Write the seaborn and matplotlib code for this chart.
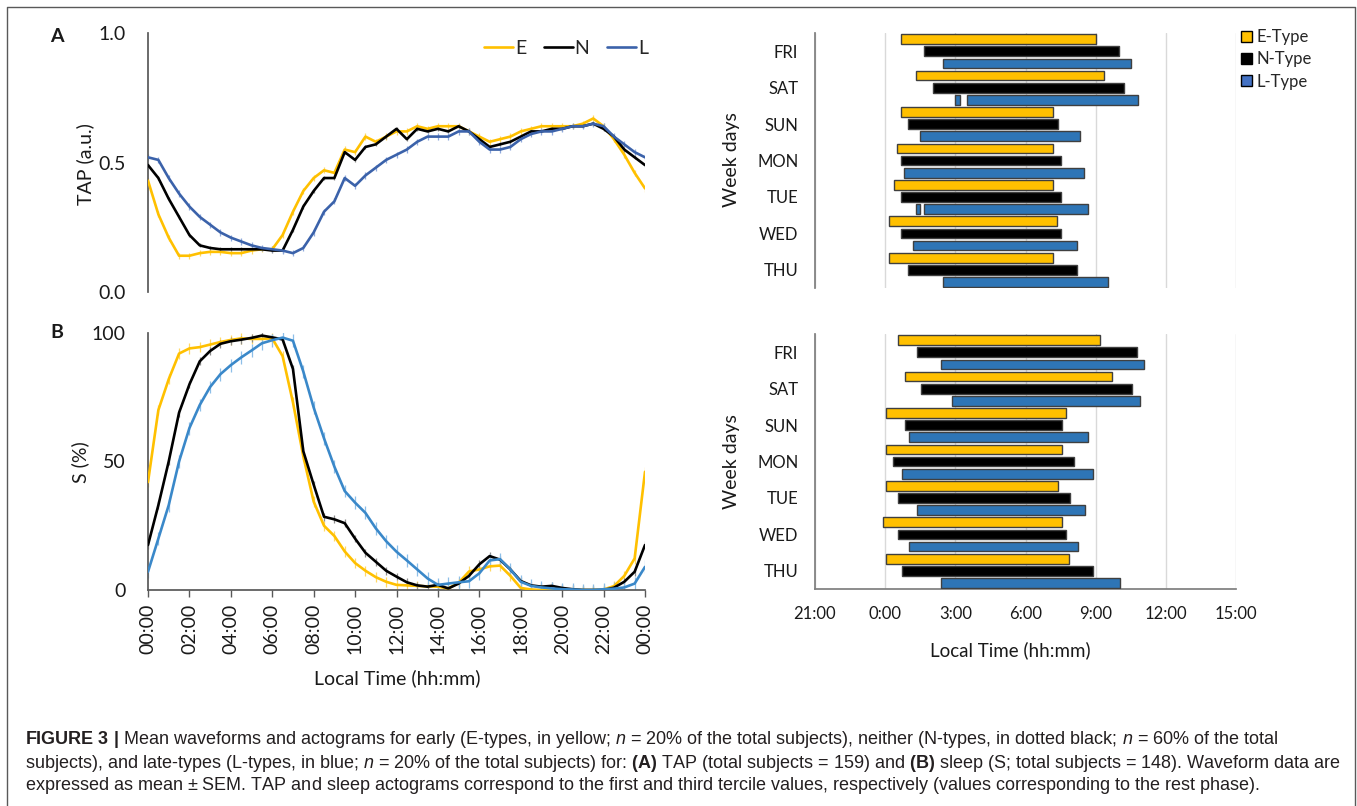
import numpy as np
import pandas as pd
import matplotlib
matplotlib.use("Agg")
import matplotlib.pyplot as plt
import seaborn as sns
from matplotlib.lines import Line2D
from matplotlib.patches import Patch

# ---------------------------
# Data
# ---------------------------

# half-hour grid, 00:00 -> 00:00
TIME_H = np.arange(0, 24.5, 0.5)
TIME_TICKS = list(range(0, 25, 2))
TIME_LABELS = ["00:00", "02:00", "04:00", "06:00", "08:00", "10:00", "12:00",
               "14:00", "16:00", "18:00", "20:00", "22:00", "00:00"]

# Panel A - TAP (a.u.)
TAP_E = [0.43, 0.30, 0.21, 0.14, 0.14, 0.15, 0.155, 0.155, 0.15, 0.15, 0.16, 0.165,
         0.165, 0.22, 0.31, 0.39, 0.44, 0.47, 0.46, 0.55, 0.54, 0.60, 0.58, 0.60,
         0.62, 0.62, 0.64, 0.63, 0.64, 0.64, 0.64, 0.62, 0.60, 0.58, 0.59, 0.60,
         0.62, 0.63, 0.64, 0.64, 0.64, 0.64, 0.65, 0.67, 0.64, 0.59, 0.53, 0.46, 0.40]
TAP_N = [0.49, 0.44, 0.36, 0.29, 0.22, 0.18, 0.17, 0.165, 0.165, 0.165, 0.165, 0.165,
         0.16, 0.16, 0.24, 0.33, 0.39, 0.44, 0.44, 0.54, 0.51, 0.56, 0.57, 0.60,
         0.63, 0.59, 0.63, 0.62, 0.63, 0.62, 0.64, 0.62, 0.59, 0.56, 0.57, 0.58,
         0.60, 0.62, 0.62, 0.63, 0.63, 0.64, 0.64, 0.65, 0.63, 0.60, 0.55, 0.52, 0.49]
TAP_L = [0.52, 0.51, 0.44, 0.38, 0.33, 0.29, 0.26, 0.23, 0.21, 0.195, 0.18, 0.17,
         0.165, 0.16, 0.15, 0.17, 0.23, 0.31, 0.35, 0.44, 0.41, 0.45, 0.48, 0.51,
         0.53, 0.55, 0.58, 0.60, 0.60, 0.60, 0.62, 0.62, 0.58, 0.55, 0.55, 0.56,
         0.59, 0.61, 0.62, 0.62, 0.63, 0.64, 0.64, 0.65, 0.64, 0.60, 0.57, 0.54, 0.52]
TAP_SEM = {"E": 0.012, "N": 0.008, "L": 0.012}

# Panel B - sleep S (%)
S_E = [42, 70, 82, 92, 94, 94.5, 95.5, 96.5, 97.3, 97.9, 97.7, 97.7, 97.9, 91, 73,
       52, 34.4, 25, 21, 15, 10.5, 7.5, 5, 3.2, 2, 1.8, 1.6, 1.4, 1.3, 0.6, 2.8,
       7.2, 8, 9.2, 9.5, 5.5, 0.8, 0.2, 0, 0, 0, 0, 0, 0, 0.2, 1.5, 5.5, 12.3, 46]
S_N = [17.5, 33, 50, 69, 80, 89, 93, 95.8, 96.8, 97.4, 98.1, 99, 98.3, 97.5, 86,
       54, 41, 28.5, 27.5, 26, 20, 14.5, 11, 7.5, 5.2, 3, 1.8, 1.3, 2, 0.6, 2.5,
       5.5, 10, 13.2, 11.8, 8, 3.5, 1.8, 1.3, 1.6, 0.8, 0.3, 0, 0, 0, 0.9, 3.2, 7.1, 17.5]
S_L = [7.1, 20, 33, 50, 63, 72, 79, 84, 87.5, 90.5, 93.2, 96, 97.2, 98.2, 97, 85,
       71, 59, 48, 38.5, 34, 30, 24, 19, 14.9, 11.5, 8, 4.5, 2, 2.5, 3, 3.4, 6.5,
       11.5, 12, 8, 3.2, 1.6, 1, 0.6, 0.3, 0.2, 0, 0, 0.3, 0.5, 1, 2.5, 9]
S_SEM = {"E": 2.0, "N": 1.5, "L": 2.5}

# Actograms: hours relative to 0:00 (negative = before midnight)
DAYS = ["FRI", "SAT", "SUN", "MON", "TUE", "WED", "THU"]
TYPES = ["E-Type", "N-Type", "L-Type"]

TAP_E_START = [0.68, 1.33, 0.68, 0.50, 0.36, 0.16, 0.16]
TAP_E_END = [9.00, 9.35, 7.17, 7.17, 7.17, 7.35, 7.17]
TAP_N_START = [1.65, 2.03, 0.99, 0.68, 0.68, 0.68, 0.99]
TAP_N_END = [9.98, 10.20, 7.37, 7.51, 7.51, 7.51, 8.19]
TAP_L_START = [2.49, 3.49, 1.51, 0.82, 1.65, 1.18, 2.49]
TAP_L_END = [10.52, 10.82, 8.33, 8.51, 8.69, 8.19, 9.53]
TAP_L_PIECES = {"SAT": (2.99, 3.19), "TUE": (1.33, 1.51)}

S_E_START = [0.54, 0.86, 0.02, 0.02, 0.02, -0.11, 0.02]
S_E_END = [9.19, 9.71, 7.72, 7.54, 7.40, 7.54, 7.87]
S_N_START = [1.36, 1.54, 0.86, 0.34, 0.54, 0.54, 0.72]
S_N_END = [10.75, 10.56, 7.54, 8.06, 7.89, 7.72, 8.87]
S_L_START = [2.38, 2.85, 1.04, 0.72, 1.36, 1.04, 2.38]
S_L_END = [11.06, 10.88, 8.69, 8.87, 8.55, 8.24, 10.04]

ACTO_TICKS = [-3, 0, 3, 6, 9, 12, 15]
ACTO_LABELS = ["21:00", "0:00", "3:00", "6:00", "9:00", "12:00", "15:00"]

CAPTION = [
    r"$\mathbf{FIGURE\ 3\ |}$ Mean waveforms and actograms for early (E-types, in yellow; $n$ = 20% of the total subjects), neither (N-types, in dotted black; $n$ = 60% of the total",
    r"subjects), and late-types (L-types, in blue; $n$ = 20% of the total subjects) for: $\mathbf{(A)}$ TAP (total subjects = 159) and $\mathbf{(B)}$ sleep (S; total subjects = 148). Waveform data are",
    r"expressed as mean $\pm$ SEM. TAP and sleep actograms correspond to the first and third tercile values, respectively (values corresponding to the rest phase).",
]

# ---------------------------
# Style
# ---------------------------

YELLOW = "#FFC000"
BLACK = "#000000"
BLUE_A = "#3B62AA"
BLUE_B = "#3A88C9"
BAR_BLUE = "#2E75B6"
EDGE = "#3F3F3F"
SPINE = "#7F7F7F"
TXT = "#1A1A1A"

W, H = 1357, 806

sns.set_theme(style="white")
plt.rcParams["font.family"] = ["Lato", "DejaVu Sans"]
plt.rcParams["mathtext.fontset"] = "custom"
plt.rcParams["mathtext.rm"] = "Liberation Sans"
plt.rcParams["mathtext.it"] = "Liberation Sans:italic"
plt.rcParams["mathtext.bf"] = "Liberation Sans:bold"


def fx(x):
    return x / W


def fy(y):
    return 1 - y / H


# ---------------------------
# Panels
# ---------------------------

def draw_waveforms(ax, series, sems, colors, light):
    for key in ["E", "N", "L"]:
        y = np.asarray(series[key], dtype=float)
        ax.vlines(TIME_H, y - sems[key], y + sems[key], color=light[key], lw=0.9, zorder=2)
        sns.lineplot(x=TIME_H, y=y, color=colors[key], lw=1.9, ax=ax, zorder=3)
    ax.set_xlim(0, 24)
    ax.set_xlabel("")
    ax.set_ylabel("")
    for side in ["top", "right"]:
        ax.spines[side].set_visible(False)
    ax.spines["left"].set_color("#595959")
    ax.tick_params(axis="y", length=0, pad=16, labelsize=14, colors=TXT)


def actogram_frame(starts, ends):
    rows = []
    for t, s_list, e_list in zip(TYPES, starts, ends):
        for d, s, e in zip(DAYS, s_list, e_list):
            rows.append({"day": d, "type": t, "start": s, "end": e})
    return pd.DataFrame(rows)


def draw_actogram(ax, df, pieces=None):
    palette = dict(zip(TYPES, [YELLOW, BLACK, BAR_BLUE]))
    sns.barplot(data=df, x="end", y="day", hue="type", order=DAYS, hue_order=TYPES,
                palette=palette, width=1.0, gap=0.2, errorbar=None, legend=False,
                edgecolor=EDGE, linewidth=1.0, saturation=1, ax=ax, zorder=3)
    # turn the bars into floating start -> end bars
    for t, cont in zip(TYPES, ax.containers):
        sub = df[df["type"] == t].set_index("day")
        for bar in cont:
            day = DAYS[int(round(bar.get_y() + bar.get_height() / 2))]
            s, e = sub.loc[day, "start"], sub.loc[day, "end"]
            bar.set_x(s)
            bar.set_width(e - s)
            if pieces and t == "L-Type" and day in pieces:
                ps, pe = pieces[day]
                ax.barh(bar.get_y() + bar.get_height() / 2, pe - ps, left=ps,
                        height=bar.get_height(), color=BAR_BLUE, edgecolor=EDGE,
                        linewidth=1.0, zorder=3)
    ax.set_xlim(-3, 15)
    ax.set_ylim(6.5, -0.5)
    ax.set_xticks(ACTO_TICKS)
    ax.set_xticklabels(ACTO_LABELS)
    ax.set_xlabel("")
    ax.set_ylabel("")
    ax.set_axisbelow(True)
    ax.grid(axis="x", color="#D9D9D9", lw=1.0)
    for side in ["top", "right"]:
        ax.spines[side].set_visible(False)
    ax.spines["left"].set_color(SPINE)
    ax.spines["bottom"].set_color(SPINE)
    ax.tick_params(axis="y", length=0, pad=12, labelsize=12, colors=TXT)
    ax.tick_params(axis="x", length=0, pad=12, labelsize=12, colors=TXT)


fig = plt.figure(figsize=(W / 100, H / 100), dpi=100)

# --- A: TAP waveform
axA = fig.add_axes([fx(148), fy(292), 497 / W, 259 / H])
draw_waveforms(axA, {"E": TAP_E, "N": TAP_N, "L": TAP_L}, TAP_SEM,
               {"E": YELLOW, "N": BLACK, "L": BLUE_A},
               {"E": "#FFD966", "N": "#8C8C8C", "L": "#8FA9DC"})
axA.set_ylim(0, 1)
axA.set_yticks([0, 0.5, 1.0])
axA.set_yticklabels(["0.0", "0.5", "1.0"])
axA.set_xticks([])
axA.spines["bottom"].set_visible(False)

# --- B: sleep waveform
axB = fig.add_axes([fx(148), fy(590), 497 / W, 257 / H])
draw_waveforms(axB, {"E": S_E, "N": S_N, "L": S_L}, S_SEM,
               {"E": YELLOW, "N": BLACK, "L": BLUE_B},
               {"E": "#FFD966", "N": "#8C8C8C", "L": "#8DBFE8"})
axB.set_ylim(0, 100)
axB.set_yticks([0, 50, 100])
axB.set_xticks(TIME_TICKS)
axB.set_xticklabels(TIME_LABELS, rotation=90)
axB.spines["bottom"].set_color("#595959")
axB.tick_params(axis="x", direction="out", bottom=True, length=5, width=1,
                color="#595959", pad=5, labelsize=14, colors=TXT)

# --- TAP actogram
axC = fig.add_axes([fx(815), fy(288), 421 / W, 255 / H])
draw_actogram(axC, actogram_frame([TAP_E_START, TAP_N_START, TAP_L_START],
                                  [TAP_E_END, TAP_N_END, TAP_L_END]), TAP_L_PIECES)
axC.spines["bottom"].set_visible(False)
axC.tick_params(axis="x", labelbottom=False)

# --- sleep actogram
axD = fig.add_axes([fx(815), fy(589), 421 / W, 255 / H])
draw_actogram(axD, actogram_frame([S_E_START, S_N_START, S_L_START],
                                  [S_E_END, S_N_END, S_L_END]))

# ---------------------------
# Labels, legends, caption
# ---------------------------

fig.text(fx(57), fy(36), "A", fontsize=14, fontweight="bold", ha="center", va="center", color=TXT)
fig.text(fx(57), fy(333), "B", fontsize=14, fontweight="bold", ha="center", va="center", color=TXT)
fig.text(fx(85), fy(164), "TAP (a.u.)", fontsize=14, rotation=90, ha="center", va="center", color=TXT)
fig.text(fx(80), fy(462), "S (%)", fontsize=14, rotation=90, ha="center", va="center", color=TXT)
fig.text(fx(397), fy(678), "Local Time (hh:mm)", fontsize=14, ha="center", va="center", color=TXT)
fig.text(fx(731), fy(160), "Week days", fontsize=14, rotation=90, ha="center", va="center", color=TXT)
fig.text(fx(731), fy(462), "Week days", fontsize=14, rotation=90, ha="center", va="center", color=TXT)
fig.text(fx(1010), fy(650), "Local Time (hh:mm)", fontsize=13.5, ha="center", va="center", color=TXT)

line_handles = [Line2D([], [], color=c, lw=1.9) for c in [YELLOW, BLACK, BLUE_A]]
fig.legend(line_handles, ["E", "N", "L"], loc="center right",
           bbox_to_anchor=(fx(648), fy(48)), ncol=3, frameon=False, fontsize=14,
           handlelength=1.5, handletextpad=0.1, columnspacing=0.9,
           borderpad=0, borderaxespad=0)

box_handles = [Patch(facecolor=c, edgecolor=BLACK, lw=1.0) for c in [YELLOW, BLACK, "#4472C4"]]
fig.legend(box_handles, TYPES, loc="upper left", bbox_to_anchor=(fx(1241), fy(29)),
           frameon=False, fontsize=12, handlelength=0.65, handleheight=0.65,
           handletextpad=0.3, labelspacing=0.38, borderpad=0, borderaxespad=0)

for y, line in zip([739, 763, 786], CAPTION):
    fig.text(fx(25), fy(y), line, fontsize=13, family="Liberation Sans",
             ha="left", va="center", color="#231F20")

# outer frame (open at the bottom)
frame = Line2D([fx(7), fx(7), fx(1355), fx(1355)], [0, fy(7), fy(7), 0],
               transform=fig.transFigure, color="#595959", lw=1.0)
fig.add_artist(frame)

fig.savefig("out.png", dpi=100)
